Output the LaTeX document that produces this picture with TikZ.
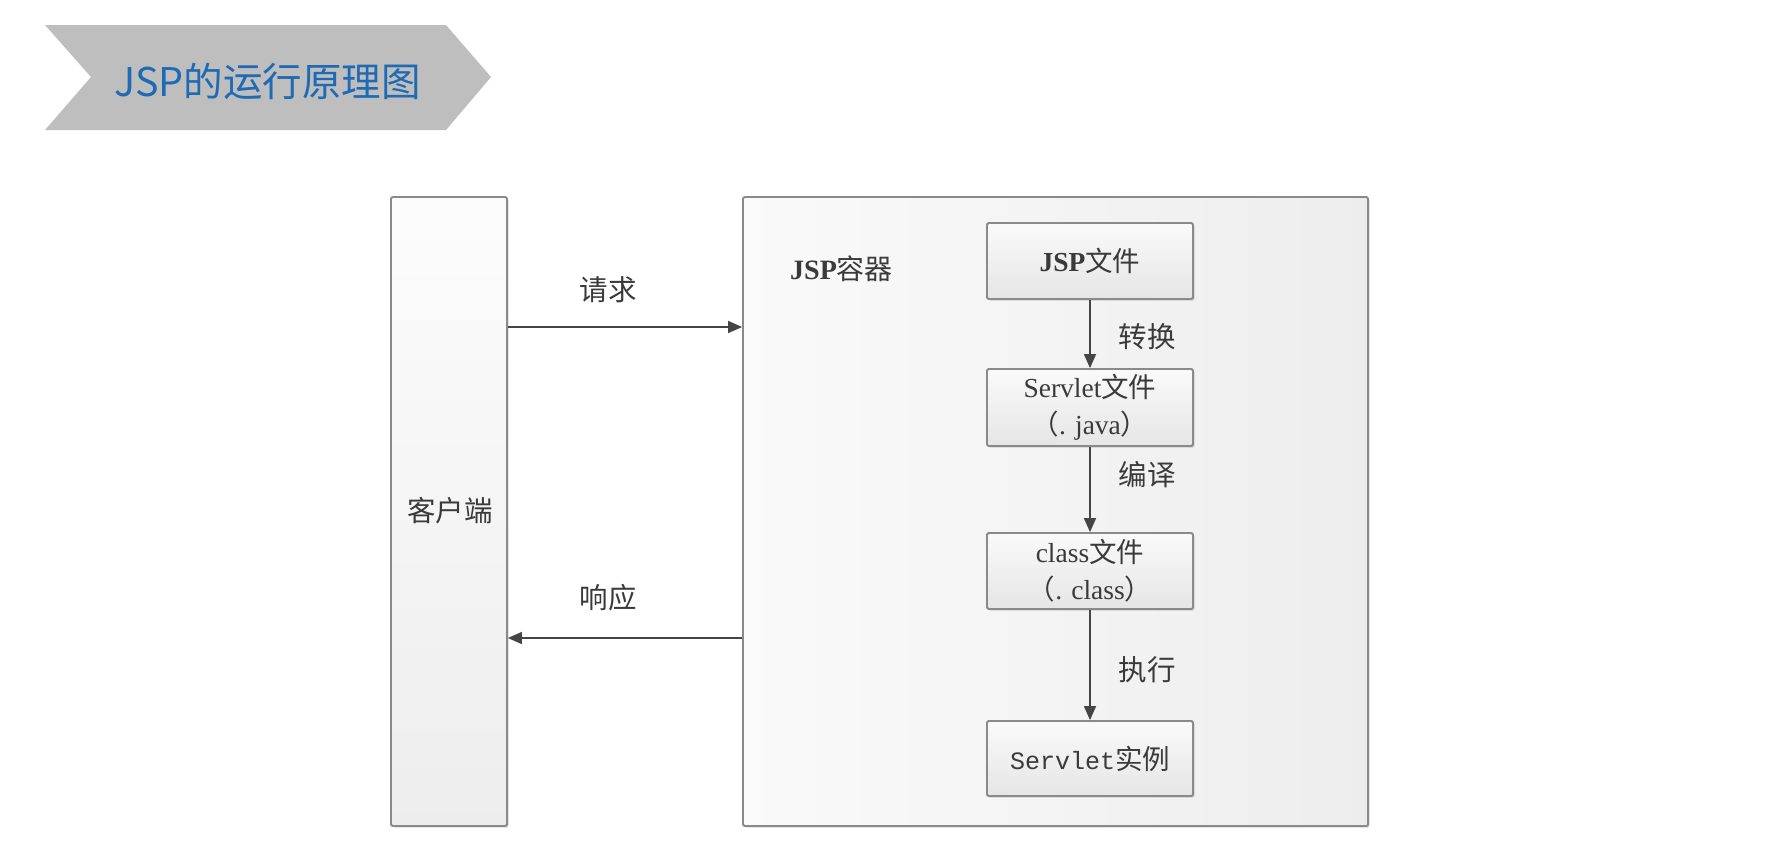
\documentclass[tikz,border=0pt]{standalone}
\usepackage{fontspec}
\setmainfont{Liberation Serif}
\newfontfamily\cjk{Noto Sans CJK SC}
\newfontfamily\monofnt{Liberation Mono}
\usetikzlibrary{arrows.meta,shadows}
\definecolor{titleblue}{HTML}{1E6AB4}
\definecolor{bannergray}{HTML}{BEBEBE}
\definecolor{boxline}{HTML}{8A8A8A}
\definecolor{txt}{HTML}{3A3A3A}
\definecolor{arrowc}{HTML}{454545}
\begin{document}
\begin{tikzpicture}[x=1pt,y=-1pt,
  frame/.style={draw=boxline, line width=1.8pt, rounded corners=1.5pt,
    drop shadow={shadow xshift=1.5pt, shadow yshift=-1.5pt, opacity=0.25, fill=black!60}},
  stepbox/.style={frame, minimum width=206pt, minimum height=76pt, inner sep=0pt,
    top color=white!98!black, bottom color=white!90!black, align=center,
    text=txt, font=\fontsize{27.5}{37}\selectfont},
  lbl/.style={text=txt, font=\fontsize{28.5}{32}\selectfont\cjk, inner sep=0pt},
  arr/.style={draw=arrowc, line width=1.6pt, -{Triangle[length=14pt,width=12pt]}}
]
\useasboundingbox (0,0) rectangle (1781,863);
\fill[white] (0,0) rectangle (1781,863);
% title banner
\fill[bannergray] (45,25) -- (446,25) -- (491,77) -- (446,130) -- (45,130) -- (91,77) -- cycle;
\node[anchor=base west, inner sep=0pt, text=titleblue, font=\fontsize{39.5}{48}\selectfont\cjk] (title) at (114,96) {JSP的运行原理图};
% client and container
\node[frame, minimum width=116pt, minimum height=629pt, top color=white!99!black, bottom color=white!93!black] (client) at (449,511.5) {};
\node[lbl] (clientlbl) at (450,511) {客户端};
\node[frame, minimum width=625pt, minimum height=629pt, left color=white!98!black, right color=white!93!black] (container) at (1055.5,511.5) {};
\node[anchor=west, inner sep=0pt, text=txt, font=\fontsize{28}{32}\selectfont] (contlbl) at (790,269) {\textbf{JSP}{\cjk 容器}};
% inner boxes
\node[stepbox, minimum height=76pt] (jsp) at (1090,261) {\textbf{JSP}{\cjk 文件}};
\node[stepbox, minimum height=77pt] (servlet) at (1090,407.5) {Servlet{\cjk 文件}\\{\cjk （}. java{\cjk ）}};
\node[stepbox, minimum height=76pt] (class) at (1090,571) {class{\cjk 文件}\\{\cjk （}. class{\cjk ）}};
\node[stepbox, minimum height=75pt] (inst) at (1090,758.5) {{\monofnt\fontsize{25}{30}\selectfont Servlet}{\cjk 实例}};
% arrows
\coordinate (ry) at (0,327);
\coordinate (sy) at (0,638);
\draw[arr] (client.east |- ry) -- (container.west |- ry);
\draw[arr] (container.west |- sy) -- (client.east |- sy);
\draw[arr] (jsp) -- (servlet);
\draw[arr] (servlet) -- (class);
\draw[arr] (class) -- (inst);
% labels
\node[lbl] (req) at (608,290) {请求};
\node[lbl] (resp) at (608,598) {响应};
\node[lbl] (conv) at (1147,337) {转换};
\node[lbl] (comp) at (1147,475) {编译};
\node[lbl] (exec) at (1147,670) {执行};
\end{tikzpicture}
\end{document}
